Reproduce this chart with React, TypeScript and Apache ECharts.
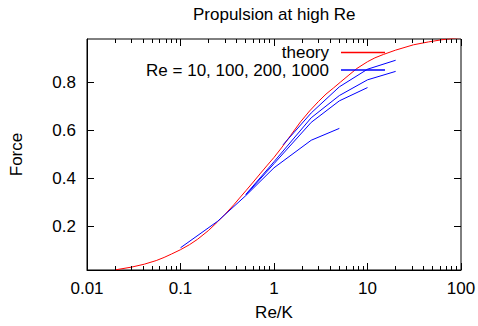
import { useEffect, useRef } from "react";
import * as echarts from "echarts";

const TITLE = "Propulsion at high Re";
const X_NAME = "Re/K";
const Y_NAME = "Force";
const X_MIN = 0.01;
const X_MAX = 100;
const Y_MIN = 0.022;
const Y_MAX = 0.978;
const X_MAJOR = [0.01, 0.1, 1, 10, 100];
const X_TICK_LABELS = ["0.01", "0.1", "1", "10", "100"];
const Y_TICKS = [0.2, 0.4, 0.6, 0.8];
const Y_TICK_LABELS = ["0.2", "0.4", "0.6", "0.8"];
const X_MINOR = [
  0.02, 0.03, 0.04, 0.05, 0.06, 0.07, 0.08, 0.09,
  0.2, 0.3, 0.4, 0.5, 0.6, 0.7, 0.8, 0.9,
  2, 3, 4, 5, 6, 7, 8, 9,
  20, 30, 40, 50, 60, 70, 80, 90,
];

const THEORY_NAME = "theory";
const SIM_NAME = "Re = 10, 100, 200, 1000";

const theoryX = [0.0204, 0.03, 0.041, 0.055, 0.0668, 0.08, 0.1, 0.125, 0.152, 0.2, 0.25, 0.3, 0.372, 0.42, 0.5, 0.6, 0.72, 0.85, 1, 1.2, 1.5, 1.92, 2.4, 3, 3.6, 4.35, 5.15, 6.2, 7.7, 10, 12, 14.8, 20, 31, 45, 62.7, 100];
const theoryY = [0.023, 0.034, 0.046, 0.061, 0.074, 0.088, 0.106, 0.127, 0.149, 0.186, 0.222, 0.253, 0.292, 0.316, 0.35, 0.386, 0.423, 0.456, 0.488, 0.527, 0.578, 0.635, 0.68, 0.72, 0.75, 0.776, 0.8, 0.826, 0.856, 0.884, 0.9, 0.914, 0.932, 0.954, 0.966, 0.975, 0.984];

const re10X = [0.1, 0.25, 0.5, 1, 2.5, 5];
const re10Y = [0.114, 0.224, 0.33, 0.445, 0.559, 0.608];
const re100X = [0.5, 1, 2.5, 5, 10];
const re100Y = [0.333, 0.462, 0.633, 0.722, 0.777];
const re200X = [0.5, 1, 2.5, 5, 10, 20];
const re200Y = [0.335, 0.47, 0.652, 0.744, 0.809, 0.844];
const re1000X = [1.25, 2.5, 5, 10, 20];
const re1000Y = [0.54, 0.672, 0.78, 0.853, 0.89];

const FONT = "'Liberation Sans', Arial, Helvetica, sans-serif";
const FS = 17;
const MAJOR_LEN = 7;
const MINOR_LEN = 4;
const X_LABEL_OFFSET = 18;

const zip = (xs: number[], ys: number[]) => xs.map((x, i) => [x, ys[i]]);
const px = (v: number) => Math.round(v - 0.5) + 0.5;

const tickLine = (x1: number, y1: number, x2: number, y2: number) => ({
  type: "line",
  shape: { x1, y1, x2, y2 },
  style: { stroke: "#000", lineWidth: 1 },
});

export default function App() {
  const ref = useRef<HTMLDivElement>(null);
  useEffect(() => {
    if (!ref.current) return;
    const chart = echarts.init(ref.current, undefined, { renderer: "svg" });
    const simSeries = [
      zip(re10X, re10Y),
      zip(re100X, re100Y),
      zip(re200X, re200Y),
      zip(re1000X, re1000Y),
    ].map((d) => ({
      type: "line",
      name: SIM_NAME,
      data: d,
      symbol: "none",
      showSymbol: false,
      color: "#0000ff",
      lineStyle: { color: "#0000ff", width: 1 },
    }));
    chart.setOption({
      animation: false,
      title: {
        text: TITLE,
        left: 193,
        top: 6,
        padding: 0,
        textStyle: { fontFamily: FONT, fontSize: FS, fontWeight: "normal", color: "#000" },
      },
      legend: {
        data: [THEORY_NAME, SIM_NAME],
        orient: "vertical",
        align: "right",
        right: 93,
        top: 44,
        padding: 0,
        itemGap: 0.5,
        itemWidth: 44,
        itemHeight: 1.3,
        icon: "rect",
        textStyle: { fontFamily: FONT, fontSize: FS, color: "#000", padding: [0, 7, 0, 0] },
        selectedMode: false,
      },
      grid: { left: 86, right: 17, top: 39, bottom: 50, show: true, borderColor: "#000", borderWidth: 1, backgroundColor: "transparent" },
      xAxis: {
        type: "log",
        logBase: 10,
        min: X_MIN,
        max: X_MAX,
        axisLine: { show: true, lineStyle: { color: "#000", width: 1 } },
        splitLine: { show: false },
        axisTick: { show: false },
        axisLabel: { show: false },
        name: X_NAME,
        nameLocation: "middle",
        nameGap: 34,
        nameTextStyle: { fontFamily: FONT, fontSize: FS, color: "#000" },
      },
      yAxis: {
        type: "value",
        min: Y_MIN,
        max: Y_MAX,
        axisLine: { show: true, lineStyle: { color: "#000", width: 1 } },
        splitLine: { show: false },
        axisTick: { show: false },
        name: Y_NAME,
        nameLocation: "middle",
        nameGap: 62,
        nameTextStyle: { fontFamily: FONT, fontSize: FS, color: "#000" },
        axisLabel: {
          show: true,
          margin: 11,
          fontFamily: FONT,
          fontSize: FS,
          color: "#000",
          customValues: Y_TICKS,
          formatter: (v: number) => {
            let best = 0;
            Y_TICKS.forEach((m, i) => {
              if (Math.abs(m - v) < Math.abs(Y_TICKS[best] - v)) best = i;
            });
            return Y_TICK_LABELS[best];
          },
        },
      },
      series: [
        {
          type: "custom",
          name: "xticks",
          silent: true,
          clip: false,
          z: 10,
          data: [...X_MAJOR.map((v, i) => [v, 1, i]), ...X_MINOR.map((v) => [v, 0, -1])],
          renderItem: (_p: any, api: any) => {
            const x = api.value(0);
            const major = api.value(1) === 1;
            const len = major ? MAJOR_LEN : MINOR_LEN;
            const b = api.coord([x, Y_MIN]);
            const t = api.coord([x, Y_MAX]);
            const xx = px(b[0]);
            const children: any[] = [
              tickLine(xx, b[1], xx, b[1] - len),
              tickLine(xx, t[1], xx, t[1] + len),
            ];
            if (major) {
              children.push({
                type: "text",
                x: b[0],
                y: b[1] + X_LABEL_OFFSET,
                style: {
                  text: X_TICK_LABELS[api.value(2)],
                  fill: "#000",
                  fontSize: FS,
                  fontFamily: FONT,
                  align: "center",
                  verticalAlign: "middle",
                },
              });
            }
            return { type: "group", children };
          },
        },
        {
          type: "custom",
          name: "yticks",
          silent: true,
          clip: false,
          z: 10,
          data: Y_TICKS.map((v) => [X_MIN, v]),
          renderItem: (_p: any, api: any) => {
            const y = api.value(1);
            const l = api.coord([X_MIN, y]);
            const r = api.coord([X_MAX, y]);
            const yy = px(l[1]);
            return {
              type: "group",
              children: [tickLine(l[0], yy, l[0] + MAJOR_LEN, yy), tickLine(r[0], yy, r[0] - MAJOR_LEN, yy)],
            };
          },
        },
        {
          type: "line",
          name: THEORY_NAME,
          data: zip(theoryX, theoryY),
          symbol: "none",
          showSymbol: false,
          color: "#ff0000",
          lineStyle: { color: "#ff0000", width: 1 },
        },
        ...simSeries,
      ],
    });
    return () => chart.dispose();
  }, []);
  return <div ref={ref} style={{ width: 478, height: 326, position: "absolute", left: 0, top: 0, background: "#fff" }} />;
}
